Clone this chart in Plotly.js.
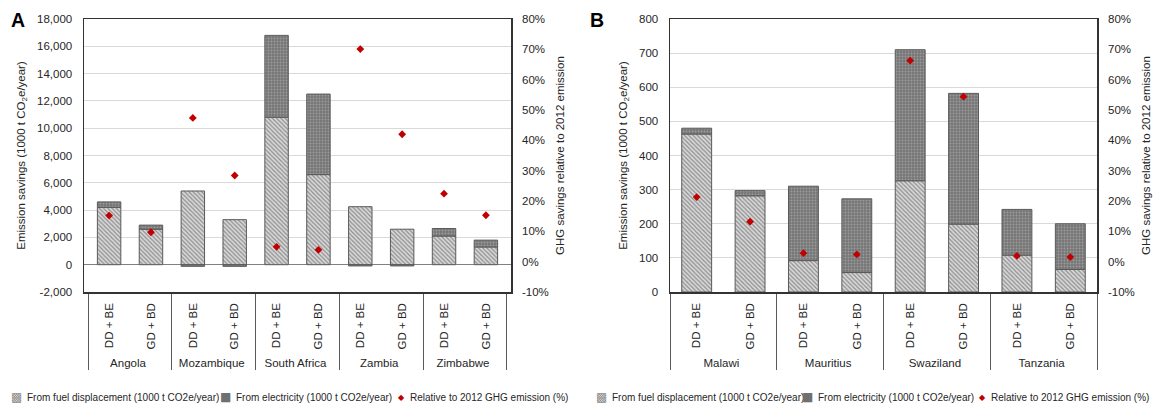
<!DOCTYPE html>
<html><head><meta charset="utf-8">
<script src="https://cdn.plot.ly/plotly-3.0.1.min.js"></script>
<style>html,body{margin:0;padding:0;background:#fff}#chart{width:1158px;height:404px}</style>
</head><body><div id="chart"></div>
<script>
const scenarios = ['DD + BE', 'GD + BD'];
const countriesA = ['Angola', 'Mozambique', 'South Africa', 'Zambia', 'Zimbabwe'];
const fuelA = [4200, 2600, 5400, 3300, 10800, 6600, 4250, 2600, 2100, 1300];
const elecA = [400, 300, -120, -120, 6000, 5900, -90, -90, 550, 500];
const pctA = [15.2, 9.7, 47.4, 28.4, 4.9, 3.9, 70.1, 42.0, 22.4, 15.3];
const countriesB = ['Malawi', 'Mauritius', 'Swaziland', 'Tanzania'];
const fuelB = [463, 282, 92, 57, 326, 199, 108, 66];
const elecB = [17, 15, 218, 216, 384, 383, 134, 134];
const pctB = [21.3, 13.2, 2.8, 2.4, 66.3, 54.4, 1.9, 1.5];
const seriesNames = ['From fuel displacement (1000 t CO2e/year)', 'From electricity (1000 t CO2e/year)', 'Relative to 2012 GHG emission (%)'];
const yTicksA = [-2000, 0, 2000, 4000, 6000, 8000, 10000, 12000, 14000, 16000, 18000];
const yTicksB = [0, 100, 200, 300, 400, 500, 600, 700, 800];
const pctTicks = [-10, 0, 10, 20, 30, 40, 50, 60, 70, 80];
const leftTitle = 'Emission savings (1000 t CO<sub>2</sub>e/year)';
const rightTitle = 'GHG savings relative to 2012 emission';

function expand(countries) {
  const outer = [], inner = [];
  countries.forEach(c => scenarios.forEach(s => { outer.push(c); inner.push(s); }));
  return [outer, inner];
}
const fmt = v => v.toLocaleString('en-US');
const pfmt = v => v + '%';

const FONT = 'Liberation Sans, Arial, sans-serif';
const TXT = '#262626';
const fuelStyle = {color: '#cfcfcf', pattern: {shape: '\\', fgcolor: '#8e8e8e', bgcolor: '#d8d8d8', size: 3, solidity: 0.4}, line: {color: '#5a5a5a', width: 1}};
const elecStyle = {color: '#7c7c7c', pattern: {shape: '.', fgcolor: '#9c9c9c', bgcolor: '#777777', size: 3, solidity: 0.3}, line: {color: '#5a5a5a', width: 1}};
const markStyle = {symbol: 'diamond', size: 6, color: '#c00000'};

function panel(countries, fuel, elec, pct, xa, ya, ya2) {
  const x = expand(countries);
  return [
    {type: 'bar', name: seriesNames[0], x: x, y: fuel, xaxis: xa, yaxis: ya, width: 0.56, marker: fuelStyle, showlegend: false},
    {type: 'bar', name: seriesNames[1], x: x, y: elec, xaxis: xa, yaxis: ya, width: 0.56, marker: elecStyle, showlegend: false},
    {type: 'scatter', mode: 'markers', name: seriesNames[2], x: x, y: pct, xaxis: xa, yaxis: ya2, marker: markStyle, showlegend: false}
  ];
}

const data = [].concat(
  panel(countriesA, fuelA, elecA, pctA, 'x', 'y', 'y2'),
  panel(countriesB, fuelB, elecB, pctB, 'x2', 'y3', 'y4')
);

const W = 1158, H = 404;
const yDom = [1 - 292 / H, 1 - 19 / H];
const xCommon = {
  type: 'multicategory', tickangle: -90, showdividers: true, dividercolor: '#595959', dividerwidth: 1,
  showline: true, linecolor: '#333333', linewidth: 1.5, mirror: true, ticks: '', showgrid: false, ticklabelstandoff: 5,
  tickfont: {size: 11.5, color: TXT, family: FONT}
};
function leftAxis(range, ticks, anchor, zl) {
  return {
    domain: yDom, anchor: anchor, range: range, tickmode: 'array', tickvals: ticks, ticktext: ticks.map(fmt),
    showgrid: true, gridcolor: '#d9d9d9', gridwidth: 1, zeroline: zl, zerolinecolor: '#808080', zerolinewidth: 1.5,
    showline: true, linecolor: '#333333', linewidth: 1.5, mirror: true, ticks: '', ticklabelstandoff: 8,
    tickfont: {size: 11.5, color: TXT, family: FONT},
    title: {text: leftTitle, font: {size: 11.5, color: TXT, family: FONT}, standoff: 9}
  };
}
function rightAxis(over, anchor) {
  return {
    overlaying: over, side: 'right', anchor: anchor, range: [-10, 80], tickmode: 'array', tickvals: pctTicks,
    ticktext: pctTicks.map(pfmt), showgrid: false, zeroline: false, showline: false, ticks: '', ticklabelstandoff: 10,
    tickfont: {size: 11.5, color: TXT, family: FONT},
    title: {text: rightTitle, font: {size: 11.5, color: TXT, family: FONT}, standoff: 8}
  };
}

const annotations = [
  {text: '<b>A</b>', x: 17.5 / W, y: 1 - 19.5 / H, xref: 'paper', yref: 'paper', showarrow: false, xanchor: 'center', yanchor: 'middle', font: {size: 19.5, color: '#000', family: FONT}},
  {text: '<b>B</b>', x: 597 / W, y: 1 - 19.5 / H, xref: 'paper', yref: 'paper', showarrow: false, xanchor: 'center', yanchor: 'middle', font: {size: 19.5, color: '#000', family: FONT}}
];
const icons = [
  {g: '\u25A9', c: '#8a8a8a', s: 12},
  {g: '\u25A0', c: '#707070', s: 12},
  {g: '\u25C6', c: '#c00000', s: 8}
];
const legendTextX = [[25, 234, 408], [610, 816, 989]];
legendTextX.forEach(row => row.forEach((tx, i) => {
  annotations.push({text: seriesNames[i], x: tx / W, y: 1 - 397 / H, xref: 'paper', yref: 'paper', showarrow: false,
    xanchor: 'left', yanchor: 'middle', font: {size: 10, color: TXT, family: FONT}});
  annotations.push({text: icons[i].g, x: (tx - 1) / W, y: 1 - 397 / H, xref: 'paper', yref: 'paper', showarrow: false,
    xanchor: 'right', yanchor: 'middle', font: {size: icons[i].s, color: icons[i].c, family: 'DejaVu Sans'}});
}));

const layout = {
  width: W, height: H, margin: {l: 0, r: 0, t: 0, b: 0}, paper_bgcolor: '#fff', plot_bgcolor: '#fff',
  font: {family: FONT, color: TXT}, barmode: 'relative', showlegend: false,
  xaxis: Object.assign({}, xCommon, {domain: [84 / W, 511 / W], anchor: 'y'}),
  xaxis2: Object.assign({}, xCommon, {domain: [670 / W, 1097 / W], anchor: 'y3'}),
  yaxis: leftAxis([-2000, 18000], yTicksA, 'x', true),
  yaxis2: rightAxis('y', 'x'),
  yaxis3: leftAxis([0, 800], yTicksB, 'x2', false),
  yaxis4: rightAxis('y3', 'x2'),
  annotations: annotations
};

Plotly.newPlot('chart', data, layout, {displayModeBar: false, staticPlot: true});
</script></body></html>
